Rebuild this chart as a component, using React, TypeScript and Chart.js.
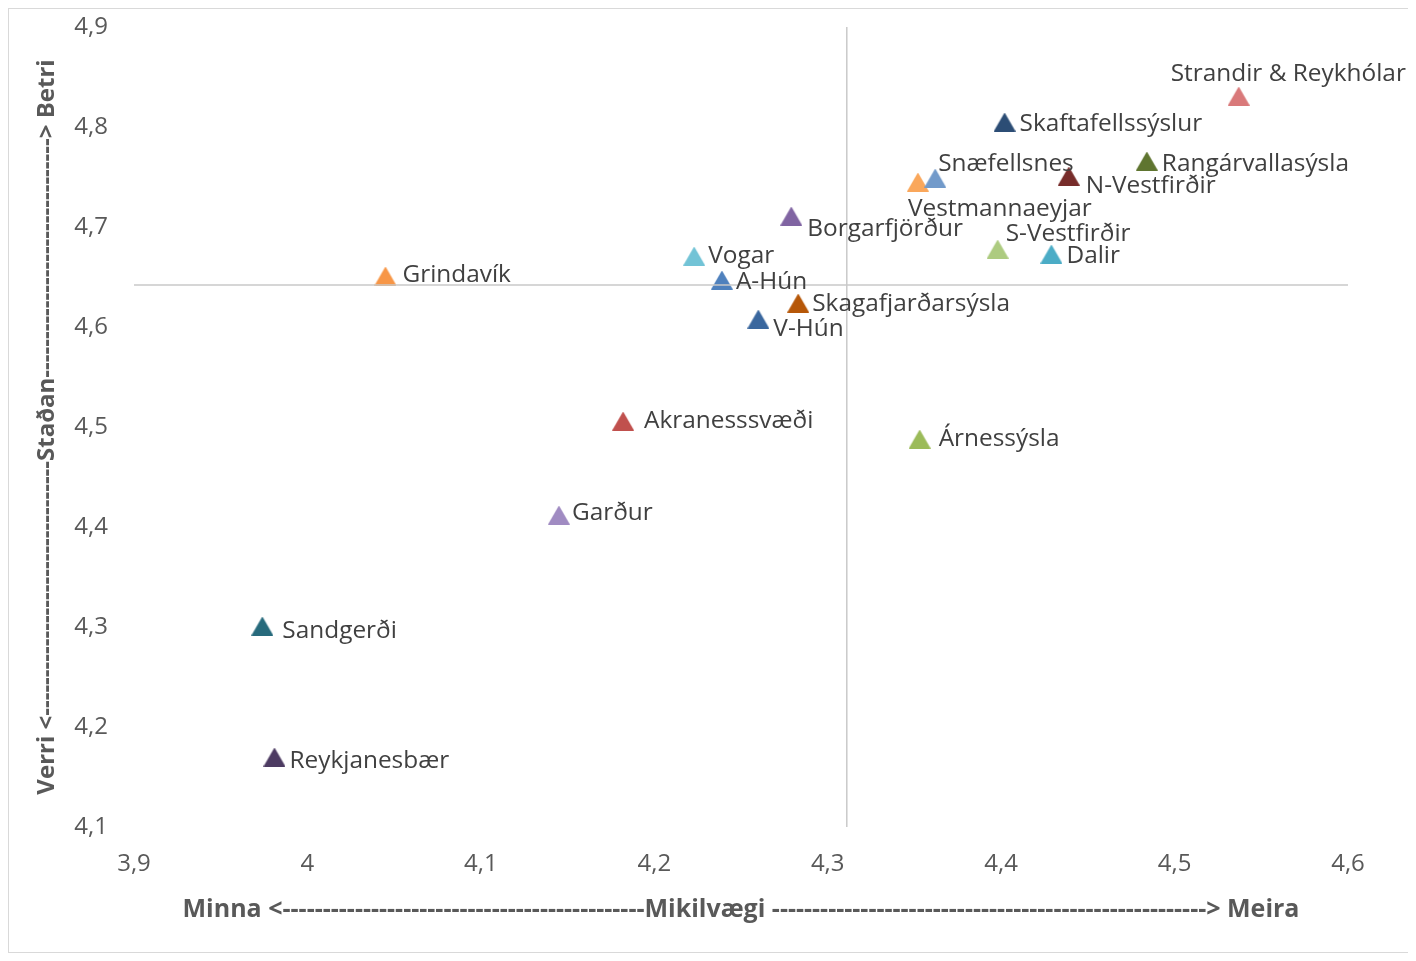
import React, { useEffect, useRef } from "react";
import { Chart, registerables } from "chart.js";

Chart.register(...registerables);

// ---- data ----
const regions = [
  "Strandir & Reykhólar",
  "Skaftafellssýslur",
  "Rangárvallasýsla",
  "N-Vestfirðir",
  "Snæfellsnes",
  "Vestmannaeyjar",
  "Borgarfjörður",
  "S-Vestfirðir",
  "Dalir",
  "Vogar",
  "Grindavík",
  "A-Hún",
  "Skagafjarðarsýsla",
  "V-Hún",
  "Akranesssvæði",
  "Árnessýsla",
  "Garður",
  "Sandgerði",
  "Reykjanesbær",
];

// Mikilvægi (importance) – x axis
const importance = [
  4.537, 4.402, 4.484, 4.439, 4.362, 4.352, 4.279, 4.398, 4.429, 4.223,
  4.045, 4.239, 4.283, 4.26, 4.182, 4.353, 4.145, 3.974, 3.981,
];

// Staðan (status) – y axis
const status = [
  4.831, 4.805, 4.766, 4.751, 4.749, 4.745, 4.711, 4.678, 4.673, 4.671,
  4.651, 4.647, 4.624, 4.608, 4.506, 4.488, 4.412, 4.301, 4.17,
];

const meanImportance = 4.311;
const meanStatus = 4.642;

const xMin = 3.9;
const xMax = 4.6;
const yMin = 4.1;
const yMax = 4.9;
const tickStep = 0.1;

const xTitle =
  "Minna <" + "-".repeat(45) + "Mikilvægi " + "-".repeat(54) + "> Meira";
const yTitle =
  "Verri <" + "-".repeat(33) + "Staðan" + "-".repeat(31) + "> Betri";

// ---- styles ----
const markerColors = [
  "#D9797A",
  "#2C4D75",
  "#5F7530",
  "#772C2A",
  "#729ACA",
  "#FAA75B",
  "#8064A2",
  "#ADCB80",
  "#4BACC6",
  "#72C3D6",
  "#F79646",
  "#4F81BD",
  "#B65708",
  "#3A679E",
  "#C0504D",
  "#9BBB59",
  "#A08BC2",
  "#276A7C",
  "#4D3B62",
];

// label offset from marker centre: [dx, dy]
const labelOffsets: [number, number][] = [
  [-68, -22],
  [15, 2],
  [15, 3],
  [17, 10],
  [3, -14],
  [-10, 27],
  [16, 13],
  [8, -15],
  [15, 2],
  [14, 0],
  [17, -1],
  [14, 2],
  [14, 1],
  [15, 10],
  [21, 0],
  [19, 0],
  [13, -2],
  [20, 5],
  [15, 4],
];

const FONT = "'Open Sans', 'Noto Sans', sans-serif";

function makeTriangle(color: string): HTMLCanvasElement {
  const w = 22;
  const h = 19;
  const c = document.createElement("canvas");
  c.width = w;
  c.height = h;
  const ctx = c.getContext("2d")!;
  ctx.fillStyle = color;
  ctx.beginPath();
  ctx.moveTo(0, h);
  ctx.lineTo(w / 2, 0);
  ctx.lineTo(w, h);
  ctx.closePath();
  ctx.fill();
  return c;
}

const fmt = (v: number) => String(Number(Number(v).toFixed(1))).replace(".", ",");

const labelPlugin = {
  id: "pointLabels",
  afterDatasetsDraw(chart: any) {
    const ctx = chart.ctx;
    ctx.save();
    ctx.font = `24.4px ${FONT}`;
    ctx.fillStyle = "#404040";
    ctx.textAlign = "left";
    ctx.textBaseline = "middle";
    regions.forEach((name, i) => {
      const meta = chart.getDatasetMeta(i + 2);
      const el = meta.data[0];
      if (!el) return;
      const [dx, dy] = labelOffsets[i];
      ctx.fillText(name, el.x + dx, el.y + dy);
    });
    ctx.restore();
  },
};

export default function App() {
  const ref = useRef<HTMLCanvasElement>(null);

  useEffect(() => {
    if (!ref.current) return;
    const lineStyle = {
      showLine: true,
      borderColor: "#C9C9C9",
      borderWidth: 1.5,
      pointRadius: 0,
      pointHoverRadius: 0,
    };
    const datasets: any[] = [
      {
        label: "meanX",
        data: [
          { x: meanImportance, y: yMin },
          { x: meanImportance, y: yMax },
        ],
        ...lineStyle,
      },
      {
        label: "meanY",
        data: [
          { x: xMin, y: meanStatus },
          { x: xMax, y: meanStatus },
        ],
        ...lineStyle,
      },
      ...regions.map((name, i) => ({
        label: name,
        data: [{ x: importance[i], y: status[i] }],
        pointStyle: makeTriangle(markerColors[i]),
        backgroundColor: markerColors[i],
        borderColor: markerColors[i],
        showLine: false,
      })),
    ];

    const chart = new Chart(ref.current, {
      type: "scatter",
      data: { datasets },
      plugins: [labelPlugin],
      options: {
        animation: false,
        responsive: true,
        maintainAspectRatio: false,
        layout: { padding: { top: 18, right: 67, bottom: 0, left: 0 } },
        plugins: {
          legend: { display: false },
          tooltip: { enabled: false },
        },
        scales: {
          x: {
            type: "linear",
            min: xMin,
            max: xMax,
            grid: { display: false, drawTicks: false },
            border: { display: false },
            ticks: {
              stepSize: tickStep,
              padding: 23,
              color: "#595959",
              font: { family: FONT, size: 24 },
              callback: (v: any) => fmt(v),
            },
            title: {
              display: true,
              text: xTitle,
              color: "#595959",
              font: { family: FONT, size: 25, weight: "bold" },
              padding: { top: 0, bottom: 27 },
            },
            afterFit: (s: any) => {
              s.height = 125;
              s.paddingLeft = 0;
              s.paddingRight = 0;
            },
          },
          y: {
            type: "linear",
            min: yMin,
            max: yMax,
            grid: { display: false, drawTicks: false },
            border: { display: false },
            ticks: {
              stepSize: tickStep,
              padding: 26,
              color: "#595959",
              font: { family: FONT, size: 24 },
              callback: (v: any) => fmt(v),
            },
            title: {
              display: true,
              text: yTitle,
              color: "#595959",
              font: { family: FONT, size: 24, weight: "bold" },
              padding: { top: 23.5, bottom: 0 },
            },
            afterFit: (s: any) => {
              s.width = 125;
              s.paddingTop = 0;
              s.paddingBottom = 0;
            },
          },
        },
      },
    });
    return () => chart.destroy();
  }, []);

  return (
    <div
      style={{
        width: 1406,
        height: 943,
        border: "1px solid #D9D9D9",
        position: "relative",
        background: "#fff",
      }}
    >
      <canvas ref={ref} />
    </div>
  );
}
